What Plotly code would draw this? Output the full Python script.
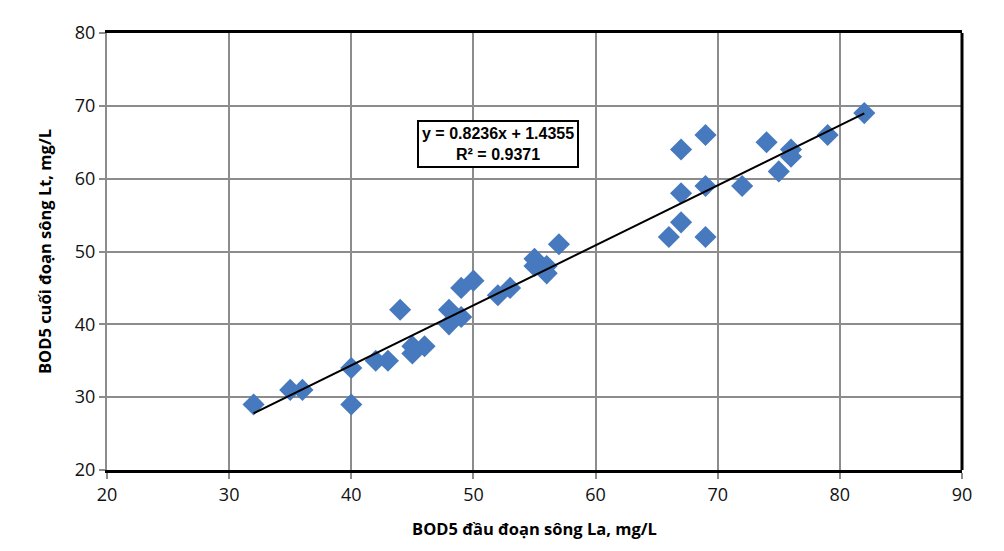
import plotly.graph_objects as go

x_la = [32, 35, 36, 40, 40, 42, 43, 44, 45, 45, 46, 48, 48, 49, 49, 50, 52, 53, 55, 55, 56, 56, 57,
        66, 67, 67, 67, 69, 69, 69, 72, 74, 75, 76, 76, 79, 82]
y_lt = [29, 31, 31, 34, 29, 35, 35, 42, 37, 36, 37, 42, 40, 41, 45, 46, 44, 45, 49, 48, 48, 47, 51,
        52, 54, 58, 64, 66, 59, 52, 59, 65, 61, 64, 63, 66, 69]
slope = 0.8236
intercept = 1.4355
r2 = 0.9371

xmin, xmax = min(x_la), max(x_la)
trend_x = [xmin, xmax]
trend_y = [slope * v + intercept for v in trend_x]

narrow = "Liberation Sans Narrow, Open Sans, sans-serif"
tick_font = dict(family=narrow, size=18, color="#111111")
title_font = dict(family="Open Sans", size=16.5, color="#000000")

fig = go.Figure()
fig.add_trace(go.Scatter(
    x=x_la, y=y_lt, mode="markers",
    marker=dict(symbol="diamond", size=17, color="#4679bd",
                line=dict(width=0)),
    showlegend=False, hoverinfo="x+y"))
fig.add_trace(go.Scatter(
    x=trend_x, y=trend_y, mode="lines",
    line=dict(color="black", width=2), showlegend=False))

fig.add_annotation(
    x=52.0, y=64.7, xref="x", yref="y",
    text=f"<b>y = {slope}x + {intercept}</b><br><b>R² = {r2}</b>",
    showarrow=False, align="center",
    font=dict(family="Liberation Sans", size=16, color="black"),
    bgcolor="white", bordercolor="black", borderwidth=2, borderpad=3)

# right border of the plot area
fig.add_shape(type="line", xref="x domain", yref="y domain",
              x0=1, x1=1, y0=0, y1=1, line=dict(color="black", width=3))

fig.update_xaxes(
    range=[20, 90], dtick=10, showgrid=True, gridcolor="#8c8c8c", gridwidth=2,
    showline=True, linecolor="black", linewidth=3, mirror=True,
    ticks="outside", ticklen=6, tickcolor="#8c8c8c", tickwidth=2,
    tickfont=tick_font, zeroline=False,
    title=dict(text="<b>BOD5 đầu đoạn sông La, mg/L</b>", font=title_font, standoff=19))
fig.update_yaxes(
    range=[20, 80], dtick=10, showgrid=True, gridcolor="#8c8c8c", gridwidth=2,
    showline=True, linecolor="#8c8c8c", linewidth=2, mirror=False,
    ticks="outside", ticklen=6, tickcolor="#8c8c8c", tickwidth=2,
    tickfont=tick_font, zeroline=False,
    title=dict(text="<b>BOD5 cuối đoạn sông Lt, mg/L</b>", font=title_font, standoff=19))

fig.update_layout(
    width=1004, height=551,
    margin=dict(l=99, r=50, t=16, b=89),
    plot_bgcolor="white", paper_bgcolor="white")

fig.write_html("out.html")
